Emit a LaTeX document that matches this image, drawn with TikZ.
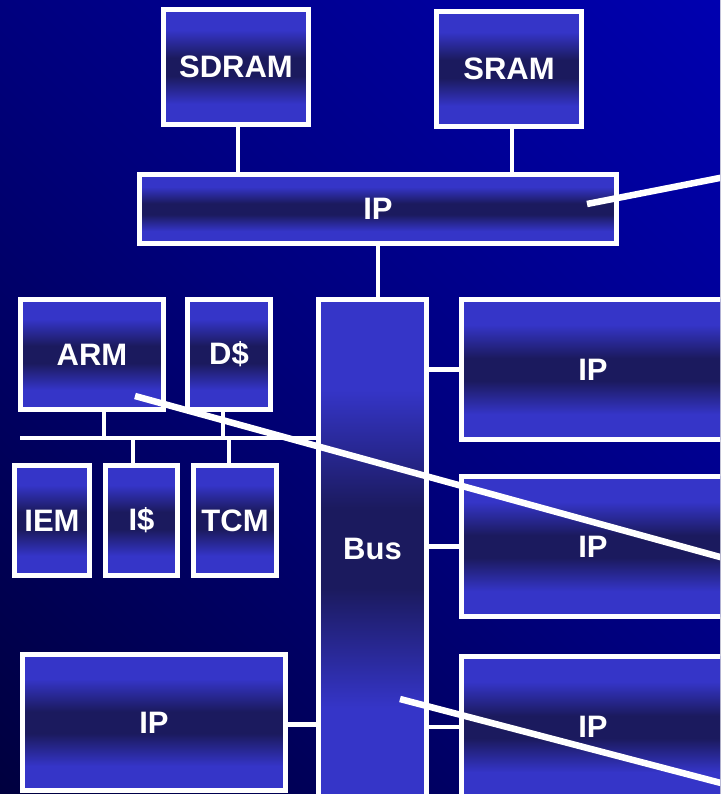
\documentclass[tikz,border=0pt]{standalone}
\usepackage{fontspec}
\setmainfont{Liberation Sans}
\definecolor{bgdark}{HTML}{00003A}
\definecolor{bgmid}{HTML}{00007C}
\definecolor{bglight}{HTML}{0000B4}
\definecolor{boxlight}{HTML}{3535C8}
\definecolor{boxdark}{HTML}{1B1A5E}
% light band at the top and bottom, dark band through the middle
\pgfdeclareverticalshading{boxshade}{100bp}{color(0bp)=(boxlight); color(34bp)=(boxlight); color(46bp)=(boxdark); color(54bp)=(boxdark); color(66bp)=(boxlight); color(100bp)=(boxlight)}
\tikzset{
  block/.style={draw=white, line width=4.5pt, shade, shading=boxshade,
    inner sep=0pt, outer sep=0pt, text=white,
    font=\bfseries\fontsize{31}{31}\selectfont},
  sz/.style 2 args={minimum width=#1pt, minimum height=#2pt},
  wire/.style={draw=white, line width=4.5pt},
  leader/.style={draw=white, line width=6.5pt},
}
\begin{document}
\begin{tikzpicture}[x=1pt, y=-1pt]
\useasboundingbox (0,0) rectangle (720,794);
\clip (0,0) rectangle (720,794);
% backdrop
\fill[top color=bglight, bottom color=bgdark, middle color=bgmid, shading angle=-45]
  (-200,-200) rectangle (920,994);

% memories and top-level IP
\node[block, sz={145}{115}] (sdram) at (236,67) {SDRAM};
\node[block, sz={145}{115}] (sram)  at (509,69) {SRAM};
\node[block, sz={477}{69}]  (iptop) at (378,209) {IP};

% processor subsystem
\node[block, sz={143}{110}] (arm)    at (92,354.5)  {ARM};
\node[block, sz={83}{110}]  (dcache) at (229,354.5) {D\$};
\node[block, sz={75}{110}]  (iem)    at (52,520.5)  {IEM};
\node[block, sz={72}{110}]  (icache) at (141.5,520.5) {I\$};
\node[block, sz={83}{110}]  (tcm)    at (235,520.5) {TCM};

% system bus and peripherals
\node[block, sz={108}{498}] (bus)  at (372.5,548.5) {Bus};
\node[block, sz={263}{140}] (ipr1) at (593,369.5) {IP};
\node[block, sz={263}{140}] (ipr2) at (593,546.5) {IP};
\node[block, sz={263}{141}] (ipr3) at (593,727) {IP};
\node[block, sz={263}{136}] (ipbl) at (154,722.5) {IP};

% connections
\draw[wire] ([xshift=2pt]sdram.south) -- ([xshift=2pt]sdram.south |- iptop.north);
\draw[wire] ([xshift=3pt]sram.south) -- ([xshift=3pt]sram.south |- iptop.north);
\draw[wire] (iptop.south) -- (iptop.south |- bus.north);

\coordinate (lbus) at (20,438);
\draw[wire] (lbus) -- (lbus -| bus.west);
\draw[wire] ([xshift=12pt]arm.south) -- ([xshift=12pt]arm.south |- lbus);
\draw[wire] ([xshift=-6pt]dcache.south) -- ([xshift=-6pt]dcache.south |- lbus);
\draw[wire] ([xshift=-8.5pt]icache.north) -- ([xshift=-8.5pt]icache.north |- lbus);
\draw[wire] ([xshift=-6pt]tcm.north) -- ([xshift=-6pt]tcm.north |- lbus);

\draw[wire] (ipr1.west) -- (ipr1.west -| bus.east);
\draw[wire] (ipr2.west) -- (ipr2.west -| bus.east);
\draw[wire] (ipr3.west) -- (ipr3.west -| bus.east);
\draw[wire] ([yshift=-2pt]ipbl.east) -- ([yshift=-2pt]ipbl.east -| bus.west);

% leader lines
\coordinate (la) at (587,204);  \coordinate (lae) at (740,174);
\coordinate (lb) at (135,396);  \coordinate (lbe) at (740,562.5);
\coordinate (lc) at (400,699);  \coordinate (lce) at (740,788);
\draw[leader] (la) -- (lae);
\draw[leader] (lb) -- (lbe);
\draw[leader] (lc) -- (lce);
\end{tikzpicture}
\end{document}
